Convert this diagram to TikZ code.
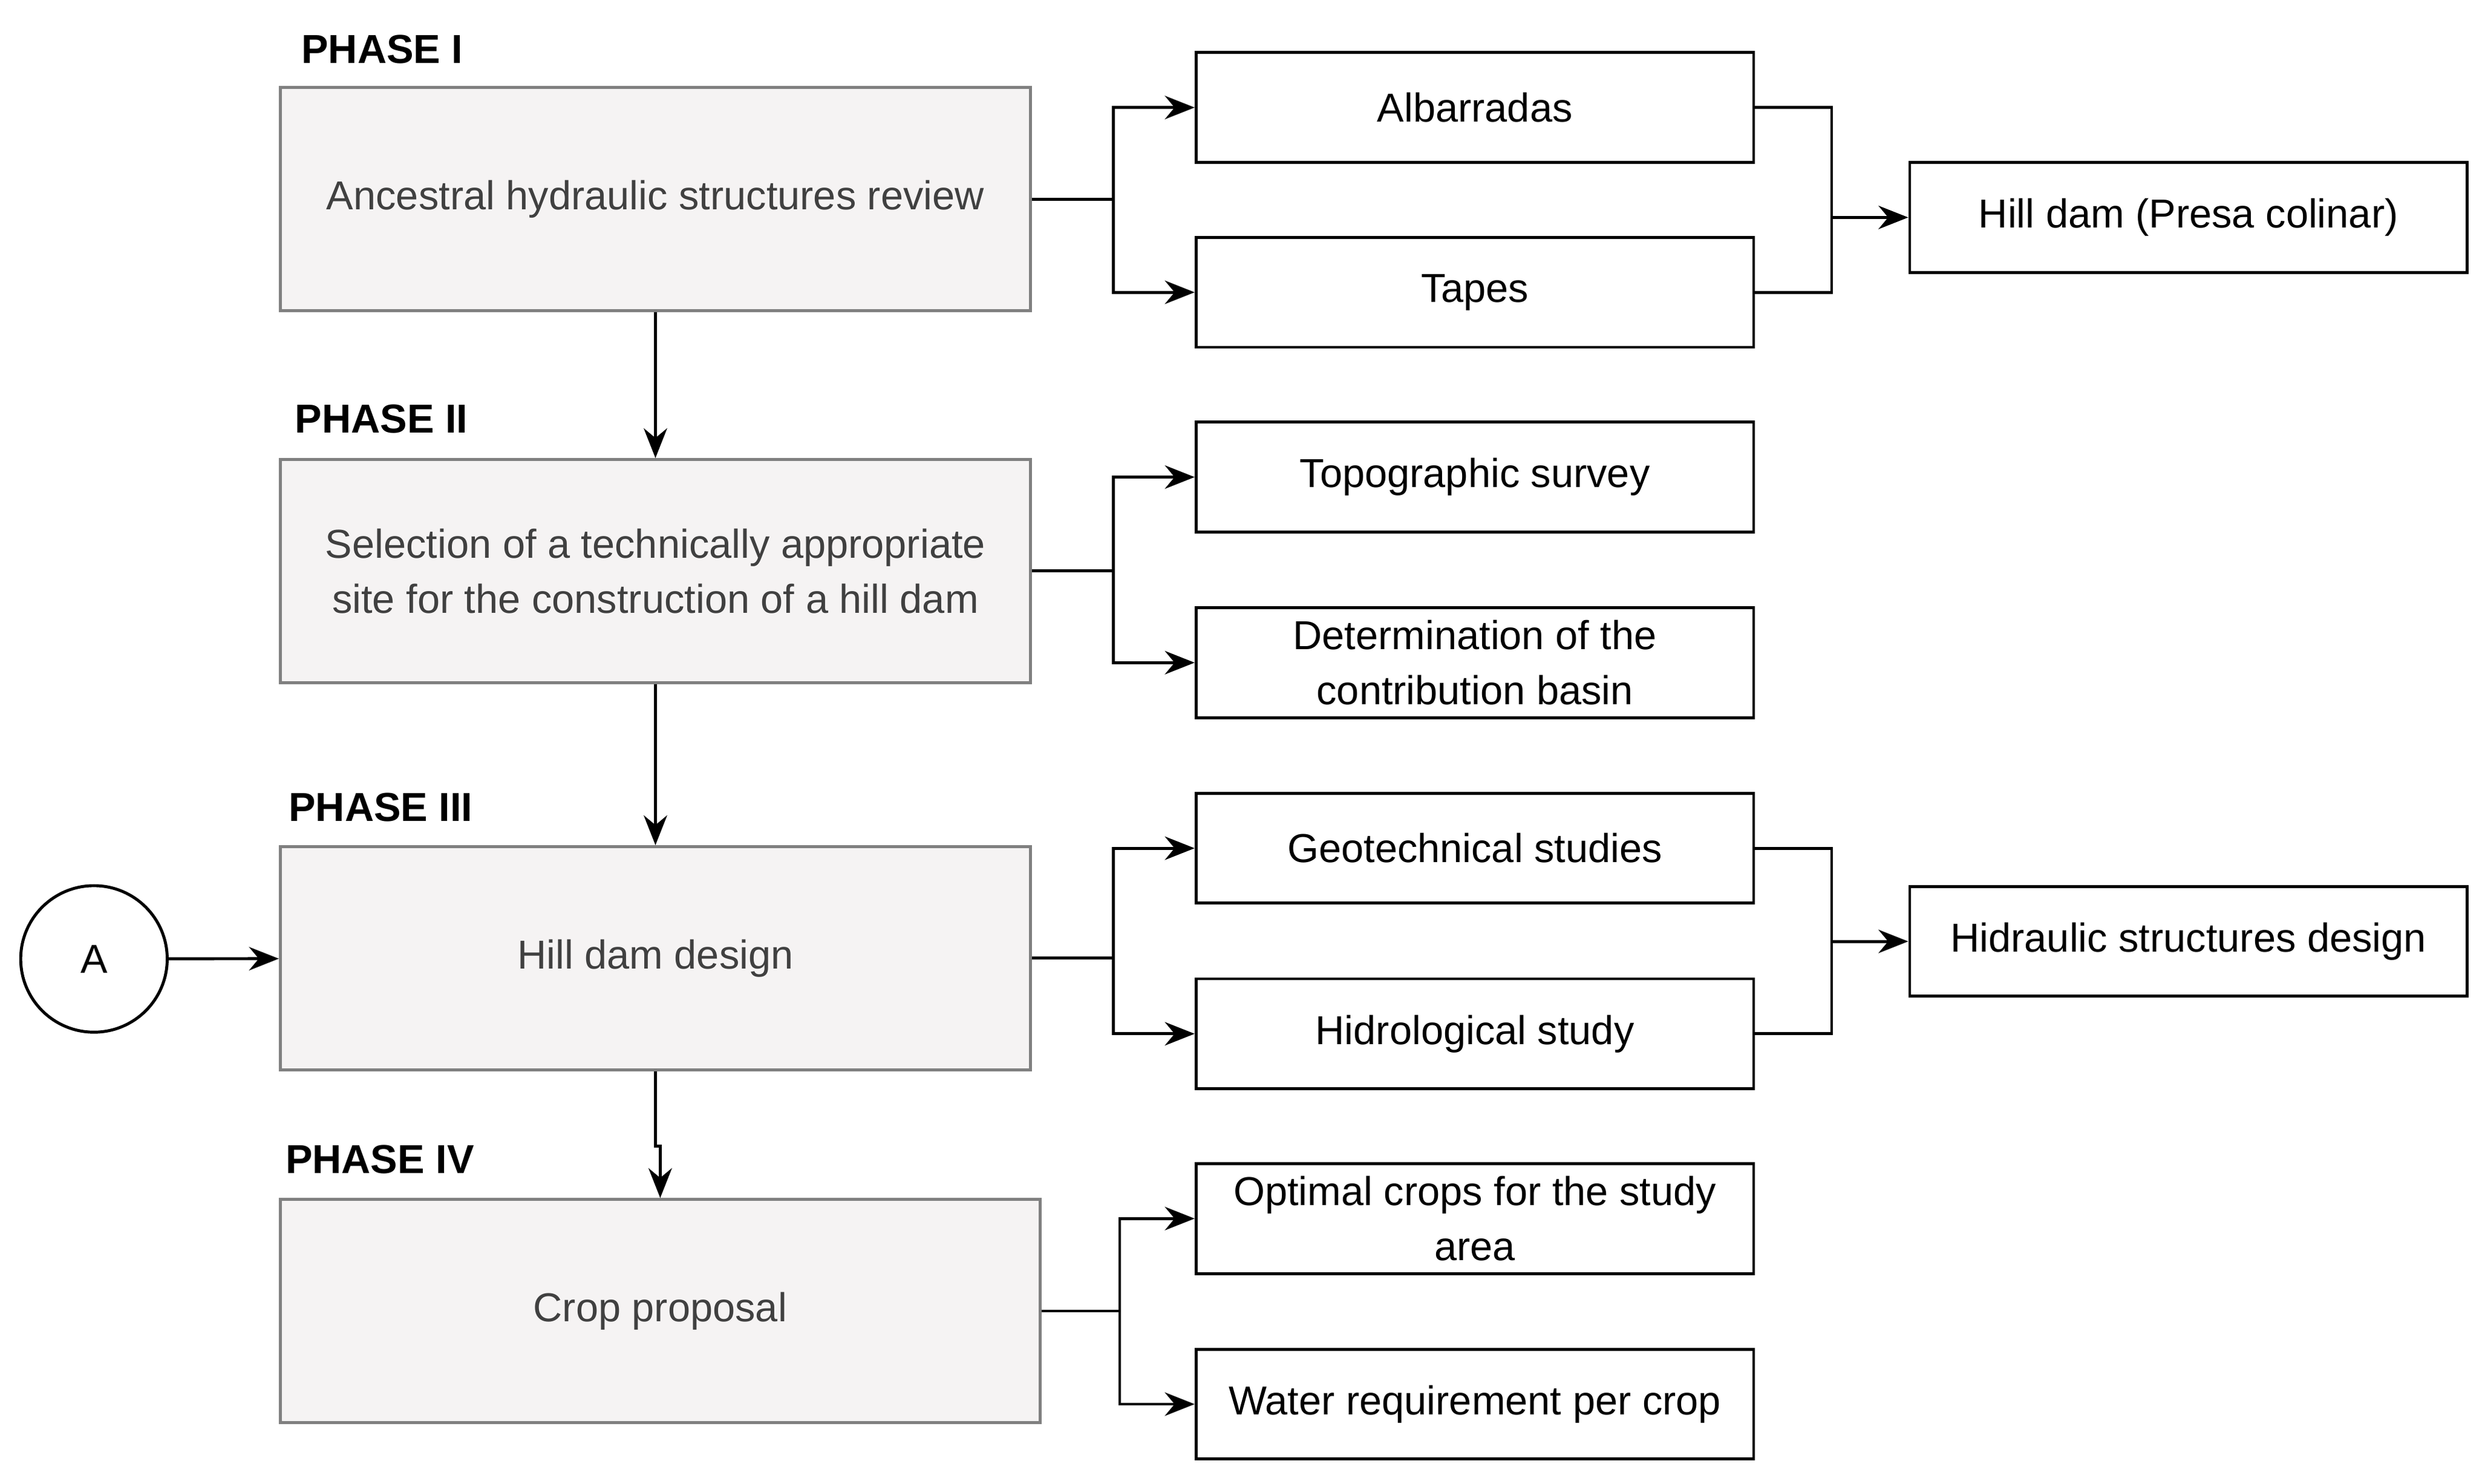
\documentclass[tikz,border=0pt]{standalone}
\usepackage{fontspec}
\setmainfont{Liberation Sans}
\usetikzlibrary{arrows.meta,positioning}
\definecolor{phasefill}{HTML}{F5F3F3}
\definecolor{phasedraw}{HTML}{808080}
\definecolor{phasetext}{HTML}{404040}
\tikzset{
  phase/.style={draw=phasedraw, fill=phasefill, line width=1.4pt, text=phasetext,
    minimum width=471*0.02633cm, minimum height=140*0.02633cm, align=center,
    inner sep=0pt, font=\fontsize{19}{26}\selectfont},
  item/.style={draw=black, fill=white, line width=1.4pt,
    minimum width=350*0.02633cm, minimum height=69*0.02633cm, align=center,
    inner sep=0pt, font=\fontsize{19}{26}\selectfont},
  plabel/.style={anchor=west, font=\fontsize{19}{22}\selectfont\bfseries, inner sep=0pt},
  line/.style={line width=1.4pt},
  arr/.style={line width=1.4pt, -{Stealth[length=14pt,width=11pt]}}
}
\begin{document}
\begin{tikzpicture}[x=0.02633cm,y=-0.02633cm]
\useasboundingbox (0,0) rectangle (1560.2,931.6);
% phases
\node[phase] (p1) at (411.5,125) {Ancestral hydraulic structures review};
\node[phase] (p2) at (411.5,358.5) {Selection of a technically appropriate\\site for the construction of a hill dam};
\node[phase] (p3) at (411.5,601.5) {Hill dam design};
\node[phase, minimum width=477*0.02633cm] (p4) at (414.5,823) {Crop proposal};
\node[plabel] (l1) at (189,31) {PHASE I};
\node[plabel] (l2) at (185,263) {PHASE II};
\node[plabel] (l3) at (181,507) {PHASE III};
\node[plabel] (l4) at (179,728) {PHASE IV};
% circle A
\node[draw, circle, line width=1.4pt, minimum size=92*0.02633cm, inner sep=0pt,
  font=\fontsize{19}{22}\selectfont] (a) at (59,602) {A};
% items
\node[item] (i1) at (926,67.5) {Albarradas};
\node[item] (i2) at (926,183.5) {Tapes};
\node[item] (i3) at (926,299.5) {Topographic survey};
\node[item] (i4) at (926,416) {Determination of the\\contribution basin};
\node[item] (i5) at (926,532.5) {Geotechnical studies};
\node[item] (i6) at (926,649) {Hidrological study};
\node[item] (i7) at (926,765) {Optimal crops for the study\\area};
\node[item] (i8) at (926,881.5) {Water requirement per crop};
\node[item] (r1) at (1374,136.5) {Hill dam (Presa colinar)};
\node[item] (r2) at (1374,591) {Hidraulic structures design};
\coordinate (b1) at (699,125);
\coordinate (b2) at (699,358.5);
\coordinate (b3) at (699,601.5);
\coordinate (b4) at (703,823);
\coordinate (m1) at (1150,136.5);
\coordinate (m2) at (1150,591);
% vertical flow
\draw[arr] (p1) -- (p2);
\draw[arr] (p2) -- (p3);
\draw[arr] (p3.south) -- ++(0,47) -| (p4.north);
\draw[arr] (a) -- (p3);
% branches
\foreach \p/\b/\u/\d in {p1/b1/i1/i2, p2/b2/i3/i4, p3/b3/i5/i6, p4/b4/i7/i8}{
  \draw[line] (\p.east) -- (\b);
  \draw[arr] (\b) |- (\u.west);
  \draw[arr] (\b) |- (\d.west);
}
% merges
\draw[line] (i1.east) -| (m1);
\draw[line] (i2.east) -| (m1);
\draw[arr] (m1) -- (r1.west);
\draw[line] (i5.east) -| (m2);
\draw[line] (i6.east) -| (m2);
\draw[arr] (m2) -- (r2.west);
\end{tikzpicture}
\end{document}
